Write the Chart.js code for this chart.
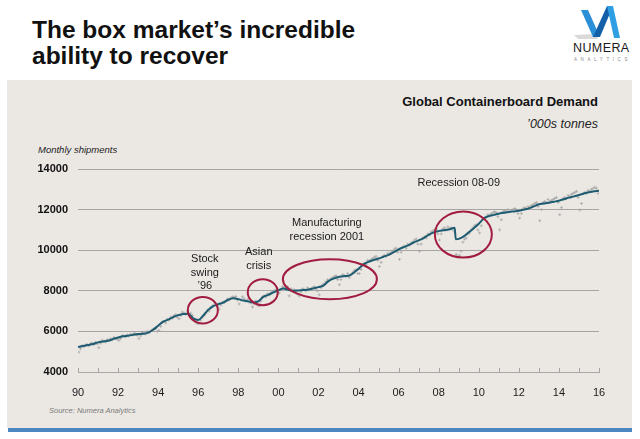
<!DOCTYPE html>
<html>
<head>
<meta charset="utf-8">
<title>The box market's incredible ability to recover</title>
<script src="https://cdn.jsdelivr.net/npm/chart.js@4.4.1/dist/chart.umd.min.js"></script>
<style>
  html, body { margin: 0; padding: 0; background: #ffffff; }
  body { width: 640px; height: 439px; position: relative; overflow: hidden;
         font-family: "Liberation Sans", Arial, sans-serif; color: #111; }
  .abs { position: absolute; white-space: nowrap; }
  #title { left: 32px; top: 17px; font-size: 24.5px; line-height: 26px; font-weight: bold; color: #111; }
  #panel { left: 7px; top: 80px; width: 625px; height: 348px; background: #ebe8e4; }
  #bar { left: 8px; top: 428px; width: 624px; height: 4px; background: #4d87c1; }
  #logoName { left: 573px; top: 42px; font-size: 12.5px; line-height: 13px; letter-spacing: 0.4px; color: #1a1a1a; }
  #logoSub { left: 574px; top: 57px; font-size: 4.5px; line-height: 5px; letter-spacing: 3.6px; color: #888; }
  #chartTitle { right: 42px; top: 95px; font-size: 13px; line-height: 13px; font-weight: bold; color: #111; }
  #unit { right: 42px; top: 118px; font-size: 12.5px; line-height: 13px; font-style: italic; color: #222; }
  #yTitle { left: 38px; top: 145px; font-size: 9.5px; line-height: 10px; font-style: italic; color: #222; }
  #source { left: 49px; top: 407px; font-size: 7.5px; line-height: 8px; font-style: italic; color: #7a7a7a; }
  canvas { position: absolute; left: 0; top: 0; }
</style>
</head>
<body>
<div id="panel" class="abs"></div>
<div id="bar" class="abs"></div>
<div id="title" class="abs">The box market’s incredible<br>ability to recover</div>

<svg class="abs" style="left:0;top:0" width="640" height="80">
  <polygon points="574,35 596,34 598,39 578,39" fill="#c9c9c9" opacity="0.7"/>
  <polygon points="581,10 588,10 600,37 593,37" fill="#2a8fd6"/>
  <polygon points="593,37 607,6 613,6 600,37" fill="#135fa8"/>
  <polygon points="607,6 613,6 620,38 614,38" fill="#2f9fe3"/>
</svg>
<div id="logoName" class="abs">NUMERA</div>
<div id="logoSub" class="abs">ANALYTICS</div>

<div id="chartTitle" class="abs">Global Containerboard Demand</div>
<div id="unit" class="abs">’000s tonnes</div>
<div id="yTitle" class="abs">Monthly shipments</div>
<div id="source" class="abs">Source: Numera Analytics</div>

<canvas id="chart" width="640" height="439"></canvas>

<script>
// Trend line (decimal years and '000 tonnes)
var trendYears = [
  1990, 1990.25, 1990.5, 1990.75, 1991, 1991.25, 1991.5, 1991.75,
  1992, 1992.25, 1992.5, 1992.75, 1993, 1993.25, 1993.5, 1993.75,
  1994, 1994.25, 1994.5, 1994.75, 1995, 1995.25, 1995.5, 1995.75,
  1996, 1996.25, 1996.5, 1996.75, 1997, 1997.25, 1997.5, 1997.75,
  1998, 1998.25, 1998.5, 1998.75, 1999, 1999.25, 1999.5, 1999.75,
  2000, 2000.25, 2000.5, 2000.75, 2001, 2001.25, 2001.5, 2001.75,
  2002, 2002.25, 2002.5, 2002.75, 2003, 2003.25, 2003.5, 2003.75,
  2004, 2004.25, 2004.5, 2004.75, 2005, 2005.25, 2005.5, 2005.75,
  2006, 2006.25, 2006.5, 2006.75, 2007, 2007.25, 2007.5, 2007.75,
  2008, 2008.25, 2008.5, 2008.8, 2008.85, 2009, 2009.25, 2009.5, 2009.75,
  2010, 2010.25, 2010.5, 2010.75, 2011, 2011.25, 2011.5, 2011.75,
  2012, 2012.25, 2012.5, 2012.75, 2013, 2013.25, 2013.5, 2013.75,
  2014, 2014.25, 2014.5, 2014.75, 2015, 2015.25, 2015.5, 2015.75,
  2016, 2016.1
];
var trendValues = [
  5230, 5280, 5330, 5380, 5460, 5500, 5540, 5620,
  5700, 5760, 5790, 5830, 5870, 5880, 5940, 6080,
  6280, 6480, 6580, 6700, 6800, 6860, 6870, 6640,
  6560, 6780, 7060, 7240, 7340, 7420, 7560, 7630,
  7590, 7520, 7480, 7420, 7480, 7700, 7800, 7920,
  8030, 8110, 8050, 8000, 8020, 8040, 8060, 8120,
  8180, 8260, 8480, 8600, 8680, 8720, 8740, 8880,
  9080, 9300, 9430, 9520, 9590, 9680, 9770, 9900,
  10040, 10150, 10250, 10380, 10480, 10600, 10760, 10880,
  10940, 10980, 11020, 11100, 10540, 10560, 10680, 10880, 11080,
  11300, 11560, 11680, 11740, 11800, 11840, 11880, 11910,
  11940, 12000, 12060, 12160, 12260, 12300, 12340, 12390,
  12440, 12510, 12590, 12650, 12720, 12790, 12850, 12900,
  12930, 12920
];

// Monthly shipments, Jan 1990 onwards
var rawStartYear = 1990;
var rawValues = [
  4980, 5150, 5300, 5250, 5320, 5360, 5290, 5400, 5420, 5350, 5460, 5380, // 90
  5200, 5420, 5560, 5520, 5480, 5600, 5570, 5640, 5590, 5700, 5660, 5620, // 91
  5560, 5650, 5800, 5780, 5740, 5830, 5770, 5860, 5820, 5900, 5880, 5800, // 92
  5640, 5780, 5950, 5900, 5870, 6000, 5930, 6020, 6080, 6120, 6150, 6000, // 93
  6050, 6250, 6450, 6480, 6420, 6600, 6560, 6700, 6650, 6780, 6820, 6700, // 94
  6620, 6780, 6950, 6900, 6830, 7000, 6850, 6900, 6780, 6600, 6450, 6380, // 95
  6400, 6550, 6700, 6780, 6900, 7050, 7000, 7150, 7250, 7300, 7350, 7200, // 96
  7100, 7300, 7450, 7420, 7480, 7600, 7550, 7650, 7700, 7680, 7720, 7550, // 97
  7350, 7550, 7700, 7600, 7500, 7550, 7450, 7400, 7200, 7350, 7500, 7300, // 98
  7250, 7500, 7700, 7750, 7700, 7850, 7800, 7900, 7950, 8000, 8050, 7900, // 99
  7900, 8050, 8200, 8150, 8100, 8200, 7750, 8100, 8000, 8050, 7950, 7850, // 00
  7750, 7950, 8100, 8050, 8000, 8150, 8050, 8100, 8150, 8200, 8100, 8000, // 01
  7800, 8150, 8300, 8350, 8450, 8550, 8500, 8600, 8650, 8700, 8750, 8550, // 02
  8300, 8550, 8800, 8750, 8700, 8850, 8650, 8800, 8900, 9000, 9050, 8850, // 03
  8850, 9050, 9300, 9350, 9300, 9500, 9450, 9550, 9600, 9650, 9700, 9500, // 04
  9200, 9400, 9700, 9750, 9700, 9850, 9800, 9900, 9950, 10050, 10100, 9900, // 05
  9550, 9900, 10150, 10200, 10100, 10300, 10250, 10350, 10400, 10500, 10550, 10300, // 06
  9950, 10300, 10600, 10650, 10600, 10800, 10750, 10900, 10950, 11000, 11050, 10800, // 07
  10500, 10800, 11050, 11100, 11000, 11150, 11050, 11100, 11000, 10900, 9800, 9700, // 08
  9750, 9950, 10400, 10550, 10600, 10800, 10850, 11000, 11100, 11200, 11250, 11000, // 09
  10850, 11200, 11550, 11600, 11650, 11750, 11700, 11800, 11850, 11900, 11850, 11650, // 10
  11000, 11500, 11900, 11950, 11900, 12000, 11900, 11950, 12000, 12050, 12000, 11800, // 11
  11580, 11800, 12050, 12100, 12050, 12150, 12100, 12200, 12250, 12300, 12350, 12150, // 12
  11450, 12000, 12350, 12400, 12350, 12500, 12400, 12450, 12500, 12550, 12600, 12350, // 13
  11750, 12100, 12550, 12600, 12550, 12700, 12650, 12750, 12800, 12850, 12900, 12600, // 14
  11980, 12300, 12800, 12850, 12800, 12950, 12900, 13000, 13050, 13100, 13050, 12800, // 15
  12570 // 16
];

var yearTickLabels = ['90', '92', '94', '96', '98', '00', '02', '04', '06', '08', '10', '12', '14', '16'];
var yTickValues = [4000, 6000, 8000, 10000, 12000, 14000];

// Circled episodes: centre in data units, radii in pixels
var episodes = [
  { x: 1996.23, y: 7044, rx: 15, ry: 13.3, text: ['Stock', 'swing', '’96'], tx: 1996.33, ty: 9560 },
  { x: 1999.22, y: 7932, rx: 15, ry: 13, text: ['Asian', 'crisis'], tx: 1999.02, ty: 9905 },
  { x: 2002.57, y: 8573, rx: 47, ry: 20, text: ['Manufacturing', 'recession 2001'], tx: 2002.42, ty: 11321 },
  { x: 2009.23, y: 10769, rx: 28.5, ry: 23, text: ['Recession 08-09'], tx: 2009.0, ty: 13324 }
];

var trendPoints = trendYears.map(function (yr, i) { return { x: yr, y: trendValues[i] }; });
var rawPoints = rawValues.map(function (v, i) { return { x: rawStartYear + (i + 0.5) / 12, y: v }; });

var overlay = {
    id: 'overlay',
    afterDatasetsDraw: function (chart) {
        var ctx = chart.ctx;
        var xs = chart.scales.x;
        var ys = chart.scales.y;
        var area = chart.chartArea;

        // year ticks point up from the axis
        ctx.save();
        ctx.strokeStyle = '#a3a3a3';
        ctx.lineWidth = 1;
        xs.ticks.forEach(function (t) {
            var px = Math.round(xs.getPixelForValue(t.value)) + 0.5;
            ctx.beginPath();
            ctx.moveTo(px, area.bottom);
            ctx.lineTo(px, area.bottom - 4);
            ctx.stroke();
        });

        // ellipses and notes
        episodes.forEach(function (e) {
            ctx.beginPath();
            ctx.ellipse(xs.getPixelForValue(e.x), ys.getPixelForValue(e.y), e.rx, e.ry, 0, 0, Math.PI * 2);
            ctx.strokeStyle = '#a11c3f';
            ctx.lineWidth = 2;
            ctx.stroke();

            ctx.fillStyle = '#1a1a1a';
            ctx.font = '11px "Liberation Sans", Arial, sans-serif';
            ctx.textAlign = 'center';
            ctx.textBaseline = 'middle';
            var tx = xs.getPixelForValue(e.tx);
            var ty = ys.getPixelForValue(e.ty);
            e.text.forEach(function (line, k) {
                ctx.fillText(line, tx, ty + k * 13.5);
            });
        });
        ctx.restore();
    }
};

Chart.defaults.font.family = '"Liberation Sans", Arial, sans-serif';

var ctx = document.getElementById('chart').getContext('2d');
var myChart = new Chart(ctx, {
    type: 'line',
    data: {
        datasets: [{
            label: 'Trend',
            data: trendPoints,
            borderColor: '#1d5c70',
            borderWidth: 2,
            pointRadius: 0,
            cubicInterpolationMode: 'monotone',
            fill: false
        }, {
            label: 'Monthly shipments',
            data: rawPoints,
            showLine: false,
            pointStyle: 'cross',
            pointRadius: 1.5,
            pointBorderWidth: 0.7,
            pointBorderColor: '#a0a0a0',
            pointBackgroundColor: '#a0a0a0'
        }]
    },
    options: {
        responsive: false,
        animation: false,
        layout: { padding: { left: 0, right: 41, top: 169, bottom: 43 } },
        plugins: { legend: { display: false }, tooltip: { enabled: false } },
        scales: {
            x: {
                type: 'linear',
                min: 1990,
                max: 2016,
                afterFit: function (scale) { scale.height = 24; },
                grid: { display: false },
                border: { display: true, color: '#a8a8a8', width: 1 },
                ticks: {
                    stepSize: 1,
                    autoSkip: false,
                    maxRotation: 0,
                    padding: 6,
                    color: '#1a1a1a',
                    font: { size: 11 },
                    callback: function (v) {
                        return (v - 1990) % 2 === 0 ? yearTickLabels[(v - 1990) / 2] : '';
                    }
                }
            },
            y: {
                min: 4000,
                max: 14000,
                afterFit: function (scale) { scale.width = 78; },
                afterBuildTicks: function (scale) {
                    scale.ticks = yTickValues.map(function (v) { return { value: v }; });
                },
                border: { display: false },
                grid: {
                    drawTicks: false,
                    lineWidth: 1,
                    color: function (c) { return c.tick && c.tick.value === 4000 ? 'rgba(0,0,0,0)' : '#a5a5a5'; }
                },
                ticks: {
                    padding: 10,
                    color: '#111',
                    font: { size: 11, weight: 'bold' },
                    callback: function (v) { return String(v); }
                }
            }
        }
    },
    plugins: [overlay]
});
</script>
</body>
</html>
